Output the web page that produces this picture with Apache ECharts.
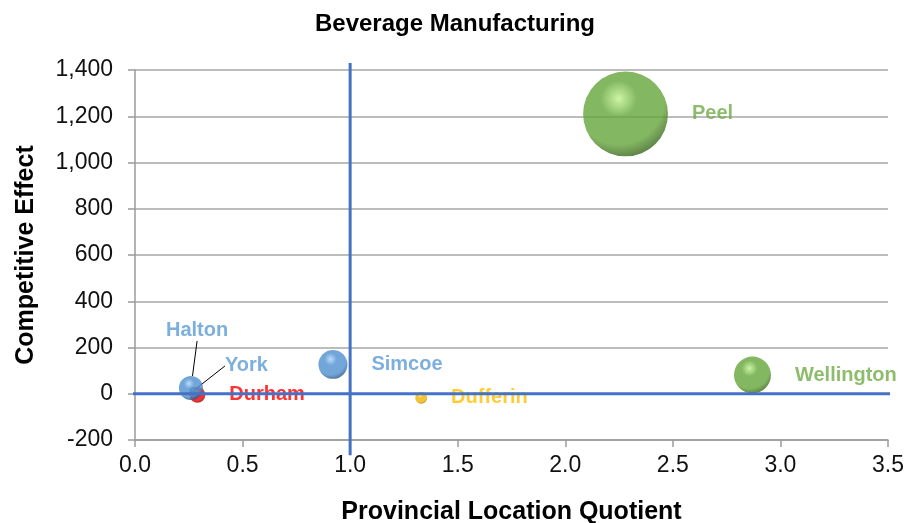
<!DOCTYPE html>
<html>
<head>
	<meta charset="utf-8">
	<title>Beverage Manufacturing</title>
	<script src="https://cdn.jsdelivr.net/npm/echarts@6/dist/echarts.min.js"></script>
</head>
<body style="margin:0;background:#fff;">
	<div id="main" style="width:910px;height:523px;"></div>
</body>
<script type="text/javascript">
// data
var regions = ['Durham', 'Dufferin', 'York', 'Halton', 'Simcoe', 'Wellington', 'Peel']
var locationQuotient = [0.29, 1.33, 0.27, 0.26, 0.92, 2.87, 2.28]
var competitiveEffect = [-5, -18, 12, 25, 127, 81, 1210]
var bubbleSize = [250, 140, 60, 580, 840, 1370, 7200]   // relative bubble area
var regionColor = ['red', 'yellow', 'blue', 'blue', 'blue', 'green', 'green']
var xTicks = [0, 3.5, 0.5]      // min, max, interval
var yTicks = [-200, 1400, 200]
// reference lines: LQ = 1 and effect = 0 (they run a bit past the plot in the original)
var vLine = [[1, -266], [1, 1430]]
var hLine = [[-0.07, 0], [3.6, 0]]

var palette = {
    blue:   {light: '#a8d4fa', mid: '#4f8fcf', dark: '#1f4a78', text: '#5b9bd5'},
    green:  {light: '#bff28c', mid: '#64a539', dark: '#2f5a17', text: '#70ad47'},
    red:    {light: '#ff7070', mid: '#f00000', dark: '#800000', text: '#ff0000'},
    yellow: {light: '#ffe680', mid: '#f0b400', dark: '#8a6400', text: '#ffc000'}
}

function ball(c){
    return {
        type: 'radial', x: 0.42, y: 0.32, r: 0.72,
        colorStops: [
            {offset: 0, color: c.light},
            {offset: 0.3, color: c.mid},
            {offset: 0.75, color: c.mid},
            {offset: 1, color: c.dark}
        ]
    }
}

// labels that sit away from their bubble, with a leader line (Excel style)
var moved = {Halton: {dx: -61, dy: -57}, York: {dx: 4, dy: -25}}

var points = []
for(var i=0;i<regions.length;i++){
    var c = palette[regionColor[i]]
    points.push({
        name: regions[i],
        value: [locationQuotient[i], competitiveEffect[i]],
        itemStyle: {color: ball(c)},
        label: {color: c.text},
        labelLine: {show: !!moved[regions[i]]}
    })
}

var font = 'Liberation Sans, Arial, sans-serif'

var option = {
    animation: false,
    title: {
        text: 'Beverage Manufacturing',
        left: 'center', top: 7,
        textStyle: {fontFamily: font, fontSize: 24, fontWeight: 'bold', color: '#000'}
    },
    grid: {left: 135, right: 22, top: 70, bottom: 83, outerBoundsMode: 'none'},
    xAxis: {
        type: 'value',
        min: xTicks[0], max: xTicks[1], interval: xTicks[2],
        name: 'Provincial Location Quotient',
        nameLocation: 'middle', nameGap: 60,
        nameTextStyle: {fontFamily: font, fontSize: 25, fontWeight: 'bold', color: '#000'},
        axisLine: {onZero: false, lineStyle: {color: '#9a9a9a', width: 1.5}},
        axisTick: {show: true, length: 7, lineStyle: {color: '#9a9a9a', width: 1.5}},
        splitLine: {show: false},
        axisLabel: {
            margin: 14, fontFamily: font, fontSize: 23, color: '#111',
            formatter: function(v){ return v.toFixed(1) }
        }
    },
    yAxis: {
        type: 'value',
        min: yTicks[0], max: yTicks[1], interval: yTicks[2],
        name: 'Competitive Effect',
        nameLocation: 'middle', nameGap: 96,
        nameTextStyle: {fontFamily: font, fontSize: 25, fontWeight: 'bold', color: '#000'},
        axisLine: {show: true, onZero: false, lineStyle: {color: '#9a9a9a', width: 1.5}},
        axisTick: {show: true, length: 7, lineStyle: {color: '#9a9a9a', width: 1.5}},
        splitLine: {show: true, lineStyle: {color: '#a6a6a6', width: 1.5}},
        axisLabel: {
            margin: 22, fontFamily: font, fontSize: 23, color: '#111',
            formatter: function(v){ return v.toLocaleString('en-US') }
        }
    },
    series: [
        {
            type: 'scatter',
            z: 2,
            data: points,
            symbolSize: function(val, params){ return Math.sqrt(bubbleSize[params.dataIndex]) },
            label: {
                show: true, position: 'right', distance: 24,
                fontFamily: font, fontSize: 20, fontWeight: 'bold',
                formatter: '{b}'
            },
            labelLine: {lineStyle: {color: '#000', width: 1}},
            labelLayout: function(params){
                var m = moved[regions[params.dataIndex]]
                return m ? {dx: m.dx, dy: m.dy} : {}
            }
        },
        {
            type: 'line', z: 5, clip: false, silent: true,
            symbol: 'none', data: vLine,
            lineStyle: {color: '#4472c4', width: 3}
        },
        {
            type: 'line', z: 5, clip: false, silent: true,
            symbol: 'none', data: hLine,
            lineStyle: {color: '#4472c4', width: 3}
        }
    ]
}

var myChart = echarts.init(document.getElementById('main'))
myChart.setOption(option)
</script>
</html>
